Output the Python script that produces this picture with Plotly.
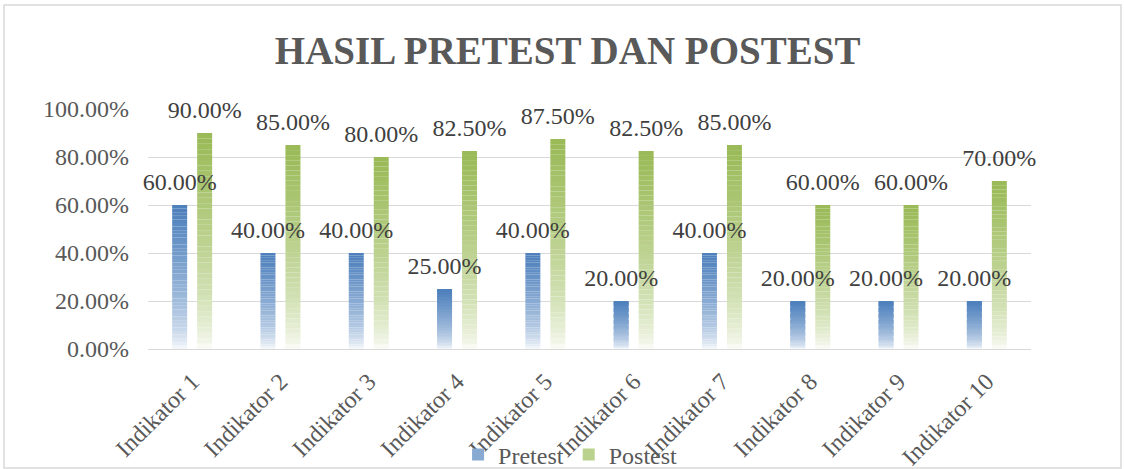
import plotly.graph_objects as go

categories = ["Indikator 1", "Indikator 2", "Indikator 3", "Indikator 4", "Indikator 5",
              "Indikator 6", "Indikator 7", "Indikator 8", "Indikator 9", "Indikator 10"]
pretest = [0.60, 0.40, 0.40, 0.25, 0.40, 0.20, 0.40, 0.20, 0.20, 0.20]
postest = [0.90, 0.85, 0.80, 0.825, 0.875, 0.825, 0.85, 0.60, 0.60, 0.70]

FONT = "Liberation Serif"
N = 40
LABEL_LIFT = 0.03


def blend(rgb, f):
    r, g, b = rgb
    return "rgb(%d,%d,%d)" % (round(255 - (255 - r) * f), round(255 - (255 - g) * f), round(255 - (255 - b) * f))


fig = go.Figure()

series = [("Pretest", pretest, (79, 129, 189), "pre"), ("Postest", postest, (155, 187, 89), "post")]
for name, vals, rgb, og in series:
    for i in range(N):
        t = (i + 0.5) / N
        f = min(1.0, t ** 0.6 * 1.02)
        fig.add_trace(go.Bar(
            x=categories,
            y=[v / N for v in vals],
            base=[v * i / N for v in vals],
            offsetgroup=og,
            name=name,
            legendgroup=name,
            showlegend=(i == N // 2),
            marker=dict(color=blend(rgb, f), line=dict(width=0)),
            hoverinfo="skip",
        ))

# data labels drawn last so they sit on top of all bars
for name, vals, rgb, og in series:
    fig.add_trace(go.Bar(
        x=categories,
        y=[LABEL_LIFT] * len(vals),
        base=vals,
        offsetgroup=og,
        showlegend=False,
        marker=dict(color="rgba(0,0,0,0)", line=dict(width=0)),
        text=["%.2f%%" % (v * 100) for v in vals],
        textposition="outside",
        textfont=dict(family=FONT, size=24, color="#404040"),
        constraintext="none",
        cliponaxis=False,
        hoverinfo="skip",
    ))

fig.update_layout(
    width=1124, height=469,
    paper_bgcolor="white", plot_bgcolor="white",
    margin=dict(l=148, r=93, t=109, b=120, autoexpand=False),
    barmode="group", bargap=0.434, bargroupgap=0.4,
    font=dict(family=FONT, color="#595959", size=24),
    title=dict(text="<b>HASIL PRETEST DAN POSTEST</b>", x=0.505, xanchor="center",
               y=1 - 50 / 469, yanchor="middle", yref="container",
               font=dict(family=FONT, size=39, color="#595959")),
    showlegend=True,
    legend=dict(orientation="h", x=0.478, xanchor="center", yref="container",
                y=1 - 455 / 469, yanchor="middle", font=dict(family=FONT, size=24, color="#595959"),
                bgcolor="rgba(0,0,0,0)", itemwidth=30, tracegroupgap=34),
    yaxis=dict(range=[0, 1.0], tickvals=[0, 0.2, 0.4, 0.6, 0.8, 1.0],
               ticktext=["0.00%", "20.00%", "40.00%", "60.00%", "80.00%", "100.00%"],
               showgrid=True, gridcolor="#d9d9d9", gridwidth=1, zeroline=False,
               showline=False, ticks="", ticklabelstandoff=18, automargin=False,
               tickfont=dict(family=FONT, size=24, color="#595959")),
    xaxis=dict(showline=True, linecolor="#d9d9d9", linewidth=1, ticks="",
               tickangle=-45, ticklabelstandoff=8, automargin=False,
               tickfont=dict(family=FONT, size=24, color="#595959")),
    shapes=[dict(type="rect", xref="paper", yref="paper",
                 x0=(4 - 148) / 883, x1=(1121 - 148) / 883,
                 y0=(349 - 468) / 240, y1=(349 - 5) / 240,
                 line=dict(color="#d9d9d9", width=1.5), fillcolor="rgba(0,0,0,0)", layer="below")],
)

fig.write_html("out.html", config={"displayModeBar": False},
               post_script="document.body.style.margin='0';")
